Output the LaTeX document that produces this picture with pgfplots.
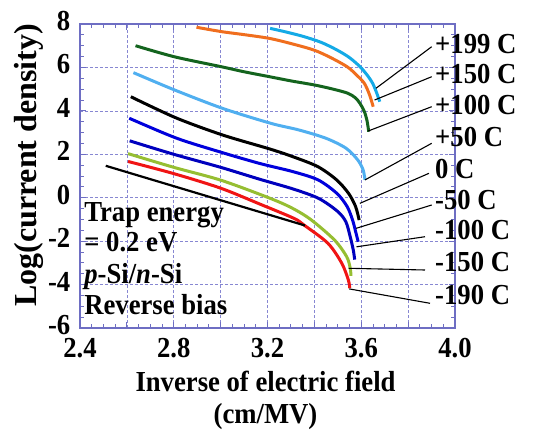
\documentclass[border=0pt]{standalone}
\usepackage{fontspec}
\setmainfont{Liberation Serif}[FakeStretch=0.92]
\newfontfamily\ylfont{Liberation Serif}
\usepackage{pgfplots}
\pgfplotsset{compat=1.18}

\definecolor{axblue}{RGB}{110,110,195}
\definecolor{gridblue}{RGB}{135,135,210}
\definecolor{c199}{RGB}{20,170,230}
\definecolor{c150}{RGB}{240,110,30}
\definecolor{c100}{RGB}{20,100,30}
\definecolor{c50}{RGB}{80,175,240}
\definecolor{cm50}{RGB}{0,0,220}
\definecolor{cm100}{RGB}{0,0,190}
\definecolor{cm150}{RGB}{150,190,50}
\definecolor{cm190}{RGB}{240,20,20}

\newcommand\lab{\fontsize{29}{31}\selectfont\bfseries}
% label at baseline height #1, leader from (#2,#3) to data point (#4,#5)
\newcommand\templab[6]{%
  \draw[line width=1.1pt] (axis description cs:#2,#3) -- (axis cs:#4,#5);
  \node[anchor=base west, inner sep=0pt, font=\lab] at (axis description cs:0.9467,#1) {#6};
}

\begin{document}
\begin{tikzpicture}
\begin{axis}[
  scale only axis, width=375pt, height=304pt,
  xmin=2.4, xmax=4.0, ymin=-6, ymax=8,
  xtick={2.4,2.6,2.8,3.0,3.2,3.4,3.6,3.8,4.0},
  xticklabels={2.4,,2.8,,3.2,,3.6,,4.0},
  ytick={-6,-4,-2,0,2,4,6,8},
  yticklabels={-6,-4,-2,0,2,4,6,8},
  minor x tick num=3, minor y tick num=3,
  tick align=inside,
  major tick length=6pt, minor tick length=4pt,
  every tick/.style={axblue, line width=0.9pt},
  axis line style={axblue, line width=1.5pt},
  grid=major,
  major grid style={gridblue, dash pattern=on 3pt off 2pt, line width=0.7pt},
  ticklabel style={font=\lab, inner sep=0.5pt},
  yticklabel style={yshift=3pt, xshift=-9pt},
  xticklabel style={yshift=-10pt},
  /pgf/number format/assume math mode=true,
  xlabel={Inverse of electric field},
  xlabel style={at={(axis description cs:0.4947,0)}, anchor=base, yshift=-63.7pt, font=\lab},
  ylabel={Log(current density)},
  ylabel style={at={(axis description cs:-0.1147,0.5345)}, anchor=base, font=\ylfont\fontsize{32}{34}\selectfont\bfseries},
  clip=false,
  every axis plot/.append style={line width=3pt, smooth, tension=0.5},
]

% +199 C
\addplot[c199] coordinates {
  (3.211,7.80) (3.28,7.63) (3.355,7.42) (3.43,7.15) (3.497,6.80) (3.55,6.45)
  (3.595,6.03) (3.625,5.65) (3.648,5.28) (3.665,4.85) (3.679,4.42)};
% +150 C
\addplot[c150] coordinates {
  (2.897,7.85) (3.003,7.65) (3.10,7.51) (3.207,7.34) (3.30,7.10) (3.398,6.80)
  (3.47,6.45) (3.540,6.03) (3.58,5.65) (3.613,5.27) (3.635,4.75) (3.651,4.19)};
% +100 C
\addplot[c100] coordinates {
  (2.637,7.00) (2.803,6.49) (3.004,6.03) (3.10,5.80) (3.210,5.57) (3.30,5.38)
  (3.401,5.19) (3.48,5.00) (3.543,4.81) (3.575,4.60) (3.594,4.35) (3.612,4.00)
  (3.624,3.58) (3.632,3.04)};
% +50 C
\addplot[c50] coordinates {
  (2.628,5.76) (2.804,4.96) (3.007,4.12) (3.213,3.43) (3.334,3.12) (3.449,2.74)
  (3.535,2.28) (3.585,1.74) (3.608,1.28) (3.616,0.82)};
% 0 C
\addplot[black] coordinates {
  (2.617,4.65) (2.809,3.68) (3.008,2.89) (3.208,2.25) (3.308,1.89) (3.415,1.43)
  (3.495,0.82) (3.546,0.20) (3.576,-0.41) (3.591,-1.03)};
% -50 C
\addplot[cm50] coordinates {
  (2.610,3.66) (2.810,2.75) (3.000,2.10) (3.166,1.58) (3.309,1.20) (3.416,0.82)
  (3.496,0.20) (3.540,-0.41) (3.563,-1.03) (3.576,-1.56) (3.587,-2.03)};
% -100 C
\addplot[cm100] coordinates {
  (2.612,2.62) (2.80,2.00) (3.00,1.40) (3.167,0.85) (3.310,0.40) (3.418,-0.03)
  (3.498,-0.62) (3.534,-1.10) (3.553,-1.80) (3.566,-2.41) (3.572,-2.85)};
% -150 C
\addplot[cm150] coordinates {
  (2.605,2.03) (2.80,1.40) (3.00,0.81) (3.20,0.02) (3.30,-0.45) (3.384,-1.00)
  (3.486,-1.95) (3.538,-2.72) (3.553,-3.25) (3.556,-3.60)};
% -190 C
\addplot[cm190] coordinates {
  (2.605,1.67) (2.80,1.11) (3.00,0.44) (3.169,-0.30) (3.313,-0.95) (3.356,-1.26)
  (3.458,-2.10) (3.517,-3.02) (3.545,-3.79) (3.551,-4.17)};
% pointer line
\addplot[black, line width=2.2pt, sharp plot] coordinates {(2.51,1.47) (3.36,-1.28)};

% temperature labels and leaders
\templab{0.9036}{0.9379}{0.9253}{3.663}{5.04}{+199 C}
\templab{0.8050}{0.9379}{0.8266}{3.657}{4.50}{+150 C}
\templab{0.7007}{0.9379}{0.7280}{3.629}{3.07}{+100 C}
\templab{0.5964}{0.9379}{0.6076}{3.616}{0.82}{+50 C}
\templab{0.4924}{0.9307}{0.5089}{3.594}{-0.26}{0 C}
\templab{0.3882}{0.9379}{0.4046}{3.578}{-1.41}{-50 C}
\templab{0.2895}{0.9200}{0.3003}{3.580}{-2.26}{-100 C}
\templab{0.1852}{0.9200}{0.1908}{3.546}{-3.25}{-150 C}
\templab{0.0757}{0.9333}{0.0813}{3.549}{-4.20}{-190 C}

% annotation text
\node[anchor=base west, inner sep=0pt, font=\lab] at (axis description cs:0.011,0.350) {Trap energy};
\node[anchor=base west, inner sep=0pt, font=\lab] at (axis description cs:0.011,0.251) {= 0.2 eV};
\node[anchor=base west, inner sep=0pt, font=\lab] at (axis description cs:0.011,0.147) {\textit{p}-Si/\textit{n}-Si};
\node[anchor=base west, inner sep=0pt, font=\lab] at (axis description cs:0.011,0.0428) {Reverse bias};

\node[anchor=base, font=\lab] at (axis description cs:0.4947,0) [yshift=-95pt] {(cm/MV)};
\end{axis}
% page frame in the reference's proportions
\path ([xshift=-80pt,yshift=-100pt]current axis.south west) rectangle ([xshift=78pt,yshift=24pt]current axis.north east);
\end{tikzpicture}
\end{document}
